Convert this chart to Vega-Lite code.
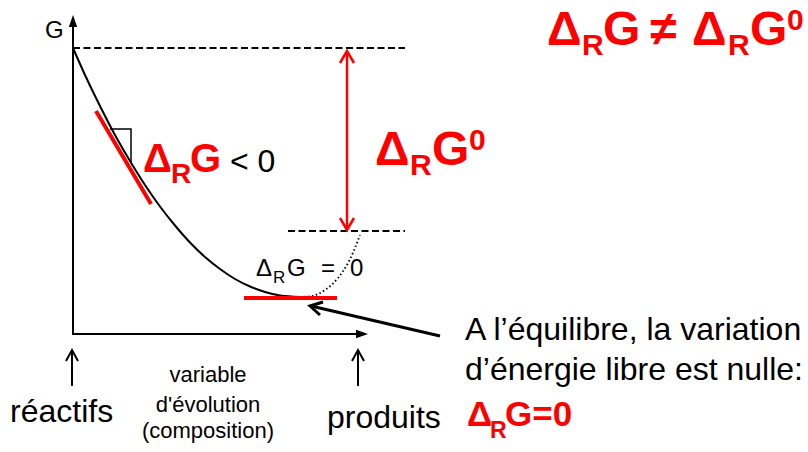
{
  "$schema": "https://vega.github.io/schema/vega-lite/v6.json",
  "width": 808,
  "height": 452,
  "autosize": {"type": "fit", "contains": "padding"},
  "padding": 0,
  "background": "white",
  "config": {"view": {"stroke": null}},
  "encoding": {
    "x": {"field": "x", "type": "quantitative", "scale": {"domain": [0, 808], "nice": false, "zero": false}, "axis": null},
    "y": {"field": "y", "type": "quantitative", "scale": {"domain": [0, 452], "nice": false, "zero": false, "reverse": true}, "axis": null}
  },
  "layer": [
    {
      "data": {"values": [
        {"id": "yaxis", "i": 0, "x": 73, "y": 334}, {"id": "yaxis", "i": 1, "x": 73, "y": 22},
        {"id": "xaxis", "i": 0, "x": 72, "y": 334}, {"id": "xaxis", "i": 1, "x": 362, "y": 334},
        {"id": "up1", "i": 0, "x": 72, "y": 386}, {"id": "up1", "i": 1, "x": 72, "y": 351},
        {"id": "up1h", "i": 0, "x": 66, "y": 361}, {"id": "up1h", "i": 1, "x": 72, "y": 350}, {"id": "up1h", "i": 2, "x": 78, "y": 361},
        {"id": "up2", "i": 0, "x": 358, "y": 386}, {"id": "up2", "i": 1, "x": 358, "y": 351},
        {"id": "up2h", "i": 0, "x": 352, "y": 361}, {"id": "up2h", "i": 1, "x": 358, "y": 350}, {"id": "up2h", "i": 2, "x": 364, "y": 361}
      ]},
      "mark": {"type": "line", "color": "black", "strokeWidth": 2},
      "encoding": {"detail": {"field": "id"}, "order": {"field": "i", "type": "quantitative"}}
    },
    {
      "data": {"values": [{"x": 73, "y": 21}]},
      "mark": {"type": "point", "shape": "M0,-1L0.7,1L-0.7,1Z", "size": 144, "filled": true, "color": "black", "opacity": 1}
    },
    {
      "data": {"values": [{"x": 362, "y": 334}]},
      "mark": {"type": "point", "shape": "M1,0L-1,0.7L-1,-0.7Z", "size": 144, "filled": true, "color": "black", "opacity": 1}
    },
    {
      "data": {"values": [
        {"i": 0, "x": 73, "y": 48}, {"i": 1, "x": 85, "y": 75}, {"i": 2, "x": 100, "y": 106},
        {"i": 3, "x": 115, "y": 135}, {"i": 4, "x": 130, "y": 161}, {"i": 5, "x": 145, "y": 185},
        {"i": 6, "x": 160, "y": 206.5}, {"i": 7, "x": 175, "y": 225.5}, {"i": 8, "x": 190, "y": 242.5},
        {"i": 9, "x": 205, "y": 257}, {"i": 10, "x": 220, "y": 269}, {"i": 11, "x": 235, "y": 279},
        {"i": 12, "x": 250, "y": 286.5}, {"i": 13, "x": 265, "y": 292}, {"i": 14, "x": 280, "y": 295.5},
        {"i": 15, "x": 300, "y": 297}
      ]},
      "mark": {"type": "line", "color": "black", "strokeWidth": 2, "interpolate": "monotone"},
      "encoding": {"order": {"field": "i", "type": "quantitative"}}
    },
    {
      "data": {"values": [
        {"i": 0, "x": 300, "y": 297}, {"i": 1, "x": 312, "y": 296}, {"i": 2, "x": 325, "y": 290},
        {"i": 3, "x": 338, "y": 278}, {"i": 4, "x": 348, "y": 263}, {"i": 5, "x": 355, "y": 248},
        {"i": 6, "x": 360, "y": 235}
      ]},
      "mark": {"type": "line", "color": "black", "strokeWidth": 1.8, "strokeDash": [1.5, 2.5], "interpolate": "monotone"},
      "encoding": {"order": {"field": "i", "type": "quantitative"}}
    },
    {
      "data": {"values": [
        {"id": "top", "i": 0, "x": 73, "y": 48}, {"id": "top", "i": 1, "x": 405, "y": 48},
        {"id": "bot", "i": 0, "x": 288, "y": 231}, {"id": "bot", "i": 1, "x": 405, "y": 231}
      ]},
      "mark": {"type": "line", "color": "black", "strokeWidth": 1.8, "strokeDash": [7, 3.5]},
      "encoding": {"detail": {"field": "id"}, "order": {"field": "i", "type": "quantitative"}}
    },
    {
      "data": {"values": [
        {"id": "angle", "i": 0, "x": 110, "y": 129}, {"id": "angle", "i": 1, "x": 131, "y": 129}, {"id": "angle", "i": 2, "x": 131, "y": 162}
      ]},
      "mark": {"type": "line", "color": "black", "strokeWidth": 1.5},
      "encoding": {"detail": {"field": "id"}, "order": {"field": "i", "type": "quantitative"}}
    },
    {
      "data": {"values": [
        {"id": "t1", "i": 0, "x": 96, "y": 111}, {"id": "t1", "i": 1, "x": 151, "y": 204},
        {"id": "t2", "i": 0, "x": 244, "y": 298}, {"id": "t2", "i": 1, "x": 337, "y": 298}
      ]},
      "mark": {"type": "line", "color": "#ff0000", "strokeWidth": 4},
      "encoding": {"detail": {"field": "id"}, "order": {"field": "i", "type": "quantitative"}}
    },
    {
      "data": {"values": [
        {"id": "shaft", "i": 0, "x": 347, "y": 52}, {"id": "shaft", "i": 1, "x": 347, "y": 229},
        {"id": "h1", "i": 0, "x": 340, "y": 63}, {"id": "h1", "i": 1, "x": 347, "y": 51}, {"id": "h1", "i": 2, "x": 354, "y": 63},
        {"id": "h2", "i": 0, "x": 340, "y": 218}, {"id": "h2", "i": 1, "x": 347, "y": 230}, {"id": "h2", "i": 2, "x": 354, "y": 218}
      ]},
      "mark": {"type": "line", "color": "#ff0000", "strokeWidth": 2.5},
      "encoding": {"detail": {"field": "id"}, "order": {"field": "i", "type": "quantitative"}}
    },
    {
      "data": {"values": [
        {"id": "shaft", "i": 0, "x": 440, "y": 336}, {"id": "shaft", "i": 1, "x": 311, "y": 306},
        {"id": "head", "i": 0, "x": 320, "y": 315}, {"id": "head", "i": 1, "x": 310, "y": 306}, {"id": "head", "i": 2, "x": 323, "y": 302}
      ]},
      "mark": {"type": "line", "color": "black", "strokeWidth": 3},
      "encoding": {"detail": {"field": "id"}, "order": {"field": "i", "type": "quantitative"}}
    },
    {
      "data": {"values": [
        {"x": 547, "y": 45, "t": "Δ"}, {"x": 603, "y": 45, "t": "G"}, {"x": 650, "y": 45, "t": "≠"},
        {"x": 692, "y": 45, "t": "Δ"}, {"x": 750, "y": 45, "t": "G"},
        {"x": 375, "y": 165, "t": "Δ"}, {"x": 432, "y": 165, "t": "G"}
      ]},
      "mark": {"type": "text", "font": "Liberation Sans", "fontWeight": "bold", "fontSize": 48, "color": "#ff0000", "align": "left", "baseline": "alphabetic"},
      "encoding": {"text": {"field": "t"}}
    },
    {
      "data": {"values": [
        {"x": 582, "y": 55, "t": "R"}, {"x": 728, "y": 55, "t": "R"}, {"x": 410, "y": 175, "t": "R"},
        {"x": 787, "y": 30, "t": "0"}, {"x": 469, "y": 150, "t": "0"}
      ]},
      "mark": {"type": "text", "font": "Liberation Sans", "fontWeight": "bold", "fontSize": 30, "color": "#ff0000", "align": "left", "baseline": "alphabetic"},
      "encoding": {"text": {"field": "t"}}
    },
    {
      "data": {"values": [
        {"x": 143, "y": 172, "t": "Δ"}, {"x": 190, "y": 172, "t": "G"}
      ]},
      "mark": {"type": "text", "font": "Liberation Sans", "fontWeight": "bold", "fontSize": 40, "color": "#ff0000", "align": "left", "baseline": "alphabetic"},
      "encoding": {"text": {"field": "t"}}
    },
    {
      "data": {"values": [
        {"x": 171, "y": 183, "t": "R"}
      ]},
      "mark": {"type": "text", "font": "Liberation Sans", "fontWeight": "bold", "fontSize": 28, "color": "#ff0000", "align": "left", "baseline": "alphabetic"},
      "encoding": {"text": {"field": "t"}}
    },
    {
      "data": {"values": [
        {"x": 467, "y": 426, "t": "Δ"}, {"x": 505, "y": 426, "t": "G=0"}
      ]},
      "mark": {"type": "text", "font": "Liberation Sans", "fontWeight": "bold", "fontSize": 35, "color": "#ff0000", "align": "left", "baseline": "alphabetic"},
      "encoding": {"text": {"field": "t"}}
    },
    {
      "data": {"values": [
        {"x": 490, "y": 438, "t": "R"}
      ]},
      "mark": {"type": "text", "font": "Liberation Sans", "fontWeight": "bold", "fontSize": 23, "color": "#ff0000", "align": "left", "baseline": "alphabetic"},
      "encoding": {"text": {"field": "t"}}
    },
    {
      "data": {"values": [
        {"x": 230, "y": 172, "t": "< 0"},
        {"x": 465, "y": 340, "t": "A l’équilibre, la variation"},
        {"x": 465, "y": 380, "t": "d’énergie libre est nulle:"},
        {"x": 10, "y": 422, "t": "réactifs"},
        {"x": 327, "y": 428, "t": "produits"}
      ]},
      "mark": {"type": "text", "font": "Liberation Sans", "fontSize": 32, "color": "black", "align": "left", "baseline": "alphabetic"},
      "encoding": {"text": {"field": "t"}}
    },
    {
      "data": {"values": [
        {"x": 256, "y": 276, "t": "Δ"}, {"x": 287, "y": 276, "t": "G"}, {"x": 321, "y": 276, "t": "="}, {"x": 350, "y": 276, "t": "0"},
        {"x": 45, "y": 38, "t": "G"}
      ]},
      "mark": {"type": "text", "font": "Liberation Sans", "fontSize": 24, "color": "black", "align": "left", "baseline": "alphabetic"},
      "encoding": {"text": {"field": "t"}}
    },
    {
      "data": {"values": [
        {"x": 273, "y": 283, "t": "R"}
      ]},
      "mark": {"type": "text", "font": "Liberation Sans", "fontSize": 17, "color": "black", "align": "left", "baseline": "alphabetic"},
      "encoding": {"text": {"field": "t"}}
    },
    {
      "data": {"values": [
        {"x": 208, "y": 382, "t": "variable"},
        {"x": 208, "y": 412, "t": "d'évolution"},
        {"x": 208, "y": 438, "t": "(composition)"}
      ]},
      "mark": {"type": "text", "font": "Liberation Sans", "fontSize": 22, "color": "black", "align": "center", "baseline": "alphabetic"},
      "encoding": {"text": {"field": "t"}}
    }
  ]
}
